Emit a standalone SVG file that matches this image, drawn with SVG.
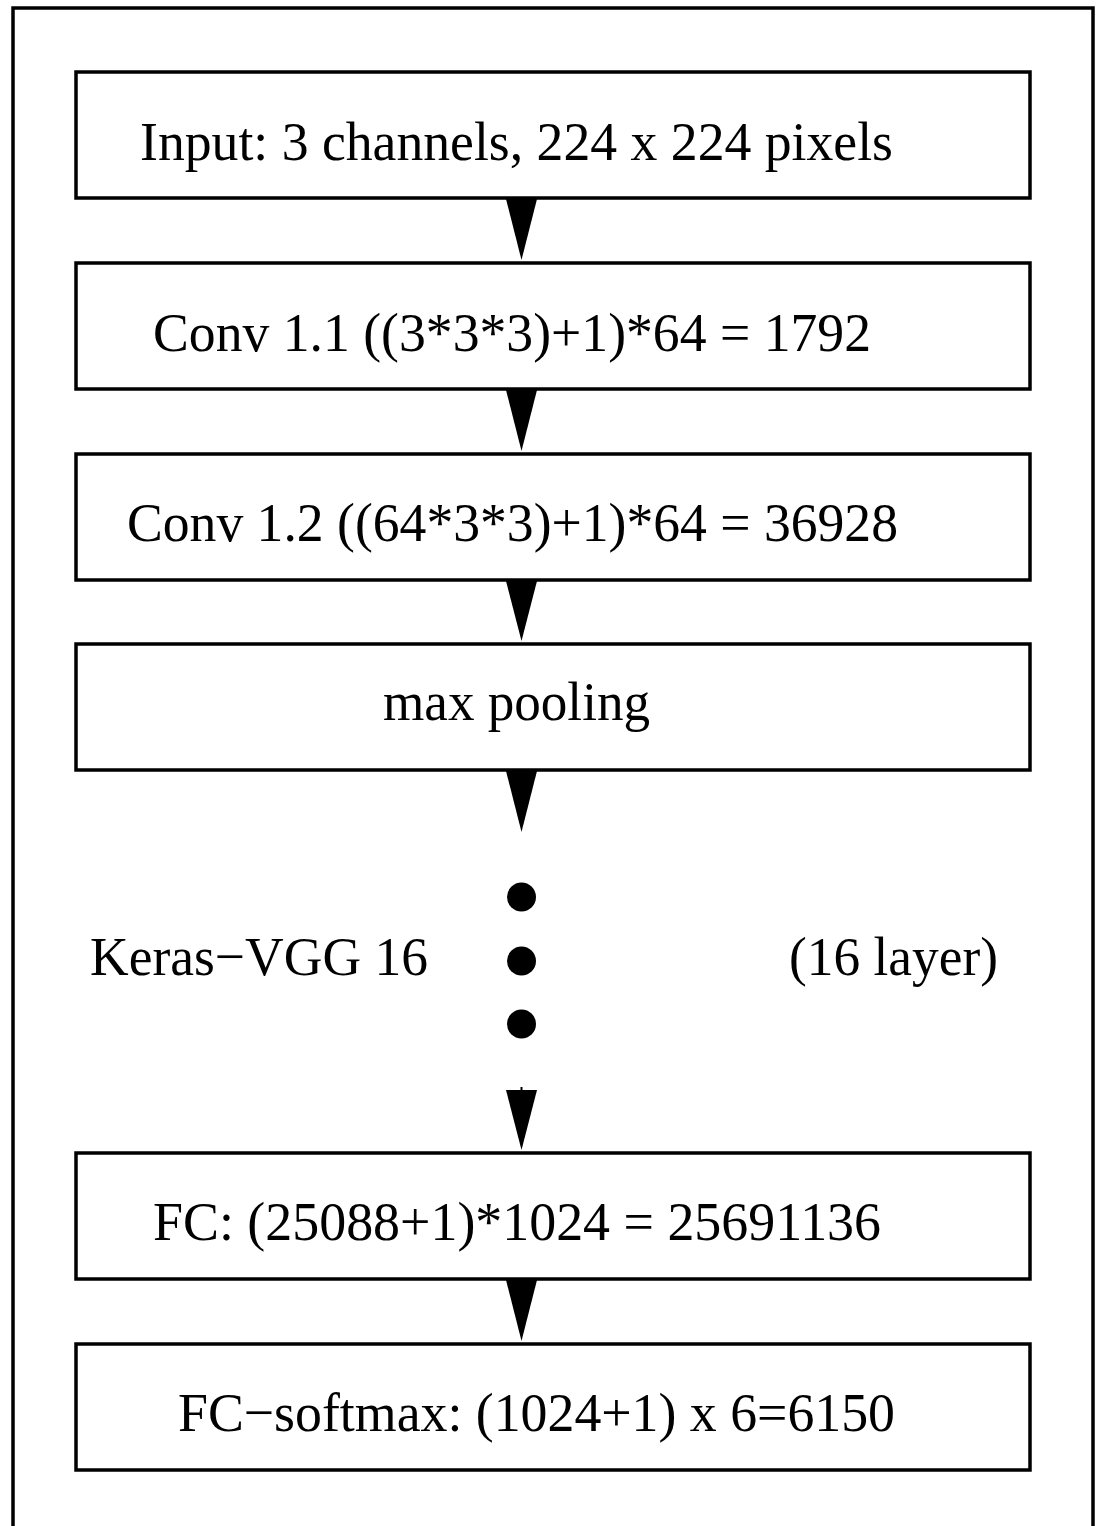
<svg xmlns="http://www.w3.org/2000/svg" width="1100" height="1526" viewBox="0 0 1100 1526">
<style>
.box{fill:#fff;stroke:#000;stroke-width:3.5}
.t{font-family:"Liberation Serif","Times New Roman",serif;font-size:54.5px;fill:#000}
.ah{fill:#000}
</style>
<rect x="0" y="0" width="1100" height="1526" fill="#fff"/>
<rect id="frame" x="13" y="8" width="1080" height="1530" fill="none" stroke="#000" stroke-width="3.5"/>
<g id="connectors">
<polygon class="ah" points="506,199 537,199 521.5,260"/>
<polygon class="ah" points="506,390 537,390 521.5,451"/>
<polygon class="ah" points="506,581 537,581 521.5,641"/>
<polygon class="ah" points="506,771 537,771 521.5,832"/>
<line x1="521.5" y1="1087" x2="521.5" y2="1091" stroke="#000" stroke-width="2"/>
<polygon class="ah" points="506,1090 537,1090 521.5,1150"/>
<polygon class="ah" points="506,1280 537,1280 521.5,1341"/>
</g>
<g id="n1"><rect class="box" x="76" y="72" width="954" height="126"/><text class="t" x="140" y="160" textLength="753" lengthAdjust="spacingAndGlyphs">Input: 3 channels, 224 x 224 pixels</text></g>
<g id="n2"><rect class="box" x="76" y="263" width="954" height="126"/><text class="t" x="153" y="351" textLength="718" lengthAdjust="spacingAndGlyphs">Conv 1.1 ((3*3*3)+1)*64 = 1792</text></g>
<g id="n3"><rect class="box" x="76" y="454" width="954" height="126"/><text class="t" x="127" y="541" textLength="771" lengthAdjust="spacingAndGlyphs">Conv 1.2 ((64*3*3)+1)*64 = 36928</text></g>
<g id="n4"><rect class="box" x="76" y="644" width="954" height="126"/><text class="t" x="383" y="720" textLength="267" lengthAdjust="spacingAndGlyphs">max pooling</text></g>
<g id="dots">
<circle cx="521.5" cy="897" r="14.5"/>
<circle cx="521.5" cy="961" r="14.5"/>
<circle cx="521.5" cy="1024" r="14.5"/>
</g>
<g id="lbl-left"><text class="t" x="90" y="975" textLength="338" lengthAdjust="spacingAndGlyphs">Keras−VGG 16</text></g>
<g id="lbl-right"><text class="t" x="789" y="975" textLength="209" lengthAdjust="spacingAndGlyphs">(16 layer)</text></g>
<g id="n5"><rect class="box" x="76" y="1153" width="954" height="126"/><text class="t" x="153" y="1240" textLength="728" lengthAdjust="spacingAndGlyphs">FC: (25088+1)*1024 = 25691136</text></g>
<g id="n6"><rect class="box" x="76" y="1344" width="954" height="126"/><text class="t" x="178" y="1431" textLength="717" lengthAdjust="spacingAndGlyphs">FC−softmax: (1024+1) x 6=6150</text></g>
</svg>
